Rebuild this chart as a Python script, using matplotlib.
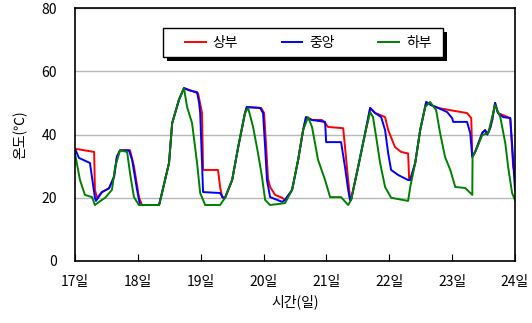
import numpy as np
import matplotlib
matplotlib.use("Agg")
import matplotlib.pyplot as plt
import matplotlib.patheffects as pe
from matplotlib.patches import Rectangle

plt.rcParams['font.family'] = ['Noto Sans CJK KR', 'DejaVu Sans']

# hours since 17일 00시, temperature (℃)
top_h = [0, 7.3, 7.6, 8.4, 10.3, 13, 14.9, 16, 17.2, 21, 22.5, 24.4, 25.6, 32.1, 33.2, 35.9, 37.1, 39.7, 41.6,
         43.9, 47, 48.5, 48.9, 54.6, 55.4, 56.2, 57.3, 60, 62.3, 64.9, 65.6, 71.1, 72.2, 73, 73.7, 74.5, 76.4,
         79.1, 80.2, 82.9, 85.2, 87.1, 88.2, 90.5, 94.3, 95.5, 96.6, 102.4, 103.1, 104.3, 105, 105.4, 108.1,
         110.8, 112.7, 114.6, 116.5, 118.4, 119.6, 122.2, 124.5, 127.2, 127.6, 128, 129.9, 131.8, 134.1, 136,
         138.7, 143.3, 149.7, 151.3, 151.7, 152.8, 155.5, 156.6, 157.4, 158.5, 159.3, 160.4, 161.5, 166.2,
         167.3, 168]
top_t = [35.5, 34.5, 22.5, 20, 21.8, 23, 26.6, 33, 35, 35, 30, 20.2, 17.7, 17.7, 21.5, 31, 43.6, 51, 54.7,
         54, 53, 46.8, 28.8, 28.8, 23.4, 20.2, 20, 25.6, 36, 46.8, 48.7, 48.4, 46.8, 36, 26, 23.4, 20.9,
         20, 19.3, 22.5, 32, 41.4, 45.5, 44.6, 44.6, 43.6, 42.4, 42, 36, 25.6, 20.2, 19.3, 29.7,
         40.5, 48.4, 46.8, 46.2, 45.5, 41.4, 36, 34.5, 34, 25.6, 25.6, 31, 41.4, 50.3, 49.3,
         48.4, 47.7, 46.8, 45.2, 32.9, 34.5, 40.5, 41.4, 40, 42, 44.6, 50, 46.8, 45.2,
         29.7, 27.8]

mid_h = [0, 1.5, 5.7, 7.6, 8.0, 10.3, 13, 14.9, 16, 17.2, 20.6, 21.8, 23.7, 24.8, 32.1, 33.2, 35.9, 37.1, 39.7,
         41.6, 43.5, 46.6, 47.4, 47.8, 48.9, 55.4, 56.5, 57.3, 60, 62.3, 64.9, 65.6, 70.7, 71.8, 72.6, 73.3,
         74.5, 79.1, 80.2, 82.9, 85.2, 87.1, 88.2, 90.5, 95.5, 95.9, 101.6, 103.1, 104.3, 105, 105.4, 108.1,
         110.8, 112.7, 114.6, 116.9, 118.4, 119.6, 120.7, 123.4, 127.2, 128, 129.9, 131.8, 134.1, 136, 138.7,
         142.1, 144, 144.4, 149.7, 150.9, 151.7, 152.8, 155.5, 156.6, 157.4, 158.5, 159.3, 160.4, 161.5,
         163.5, 166.2, 166.9, 168]
mid_t = [35.5, 32.6, 31, 20, 19, 21.8, 23, 26.6, 33, 35, 35, 32, 22.5, 17.7, 17.7, 21.5, 31, 43.6, 51,
         54.7, 54, 53.4, 50, 46.8, 21.8, 21.5, 20, 20, 25.6, 36, 46.8, 48.7, 48.4, 46.8, 36, 25.6,
         20.2, 18.7, 19.3, 22.5, 32, 41.4, 45.5, 44.6, 44, 37.6, 37.6, 29.7, 22.5, 19.3, 19.3, 29.7,
         40.5, 48.4, 46.8, 45.5, 41.4, 34, 28.8, 27.2, 25.6, 25.6, 31, 41.4, 50.3, 49.3, 48.4,
         47.1, 45.2, 44, 44, 40.5, 32.9, 34.5, 40.5, 41.4, 40, 42, 44.6, 50, 46.8,
         45.5, 45.2, 37, 22.5]

low_h = [0, 1.9, 3.8, 6.5, 7.6, 9.2, 11.5, 14.1, 15.3, 17.2, 19.9, 21, 22.5, 24.4, 32.1, 33.2, 35.9, 37.1,
         39.7, 41.6, 42.8, 44.7, 46.6, 47.8, 49.7, 55.4, 57.3, 60, 62.3, 64.9, 66.1, 68, 69.9, 71.4, 72.6,
         74.5, 80.2, 82.9, 85.2, 87.1, 89, 90.5, 92.8, 95.5, 97.4, 101.6, 104.3, 105.4, 108.1, 110.8, 112.7,
         113.8, 115, 116.5, 118.4, 120.7, 127.2, 128, 129.9, 131.8, 133.7, 135.6, 137.9, 139.4, 141.3, 143.3,
         145.2, 149, 151.7, 151.8, 153.6, 155.5, 157.8, 160.4, 162.4, 164.3, 165.4, 166.9, 168]
low_t = [34, 25.6, 20.9, 20.2, 17.7, 18.7, 20, 22.5, 29.7, 35, 34.5, 27.8, 20.2, 17.7, 17.7, 21.5, 31, 43.6,
         51, 54.7, 48.7, 43.6, 31, 21.5, 17.7, 17.7, 20, 25.6, 36, 46.8, 48.4, 42.4, 34, 26.6, 19.3,
         17.7, 18.3, 22.5, 32, 41.4, 45.5, 42.4, 32, 25.6, 20.2, 20.2, 17.7, 19.3, 29.7, 40.5, 47.1,
         45.5, 39.2, 31, 23.4, 20, 19, 23.4, 31, 41.4, 48.7, 50.3, 47.7, 40.5, 32.9, 28.8,
         23.4, 23.1, 20.9, 32.9, 36, 39.8, 40.5, 49.3, 45.5, 37.3, 29.7, 21.5, 19.3]

series = [("상부", top_h, top_t, "#ff0000"),
          ("중앙", mid_h, mid_t, "#0000ff"),
          ("하부", low_h, low_t, "#008000")]

day_labels = ["17일", "18일", "19일", "20일", "21일", "22일", "23일", "24일"]

fig = plt.figure(figsize=(5.32, 3.23), dpi=100)
ax = fig.add_axes([0.141, 0.192, 0.827, 0.783])

for name, h, t, c in series:
    ax.plot(h, t, color=c, lw=1.4, label=name)

ax.set_xlim(0, 168)
ax.set_ylim(0, 80)
ax.set_xticks(np.arange(0, 169, 24))
ax.set_xticklabels(day_labels)
ax.set_yticks([0, 20, 40, 60, 80])
ax.yaxis.grid(True, color="#b8b8b8", lw=1)
ax.set_axisbelow(True)
ax.tick_params(axis='x', direction='in', length=5, pad=10, labelsize=10)
ax.tick_params(axis='y', length=0, pad=13, labelsize=10)
for s in ax.spines.values():
    s.set_linewidth(1.2)

ax.set_xlabel("시간(일)", fontsize=10, labelpad=4)
ax.set_ylabel("온도(℃)", fontsize=10, labelpad=10)

# legend box with solid black shadow
box = Rectangle((0.2, 0.806), 0.636, 0.115, transform=ax.transAxes, facecolor='white',
                edgecolor='black', lw=1.0, zorder=5,
                path_effects=[pe.SimplePatchShadow(offset=(3, -3), shadow_rgbFace='black', alpha=1),
                              pe.Normal()])
ax.add_patch(box)
leg = ax.legend(loc='center', bbox_to_anchor=(0.25, 0.806, 0.56, 0.115), mode='expand', ncol=3,
                frameon=False, fontsize=10, handlelength=1.5, handletextpad=0.5,
                borderaxespad=0, borderpad=0)
leg.set_zorder(6)

fig.savefig("out.png", dpi=100)
